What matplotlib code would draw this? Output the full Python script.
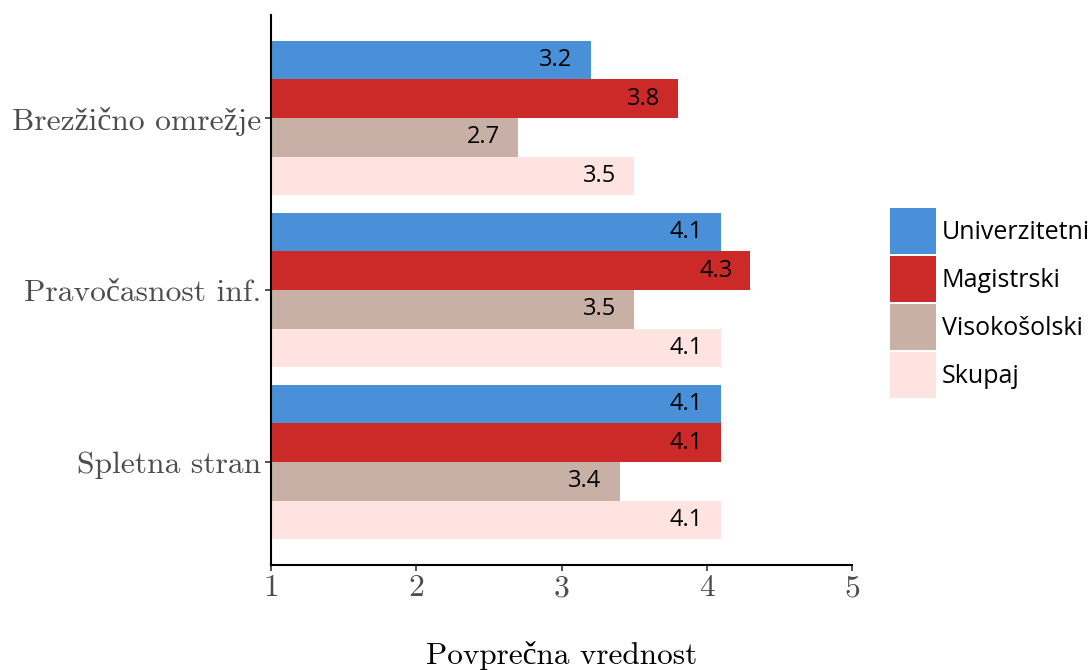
import matplotlib.pyplot as plt
import numpy as np

categories = ["Spletna stran", "Pravočasnost inf.", "Brezžično omrežje"]
series = ["Univerzitetni", "Magistrski", "Visokošolski", "Skupaj"]
univerzitetni = [4.1, 4.1, 3.2]
magistrski = [4.1, 4.3, 3.8]
visokosolski = [3.4, 3.5, 2.7]
skupaj = [4.1, 4.1, 3.5]
colors = ["#4a90d9", "#cc2929", "#c8b0a6", "#ffe3e0"]

serif = ["cmr10", "Liberation Serif"]
plt.rcParams["axes.formatter.use_mathtext"] = True

fig = plt.figure(figsize=(10.91, 6.70), dpi=100)
ax = fig.add_axes([0.2484, 0.1567, 0.5326, 0.8209])

y = np.arange(len(categories))
h = 0.225
values = [univerzitetni, magistrski, visokosolski, skupaj]
for i, (vals, name, c) in enumerate(zip(values, series, colors)):
    pos = y + (1.5 - i) * h
    ax.barh(pos, np.array(vals) - 1, h, left=1, color=c, label=name)
    for yy, v in zip(pos, vals):
        ax.annotate(f"{v:.1f}", (v, yy), xytext=(-13, 0), textcoords="offset points",
                    ha="right", va="center", fontsize=17, family="Open Sans", color="black")

ax.set_xlim(1, 5)
ax.set_ylim(-0.6, 2.6)
ax.set_xticks([1, 2, 3, 4, 5])
ax.set_xticklabels(["1", "2", "3", "4", "5"], family=serif, fontsize=22.7, color="#4d4d4d")
ax.set_yticks(y)
ax.set_yticklabels(categories, family=serif, fontsize=22.7, color="#4d4d4d")
ax.set_xlabel("Povprečna vrednost", family=serif, fontsize=22.5, labelpad=28)

for s in ["top", "right"]:
    ax.spines[s].set_visible(False)
for s in ["left", "bottom"]:
    ax.spines[s].set_linewidth(1.5)
ax.tick_params(length=4, width=1.2, color="#333333", pad=3)

ax.legend(loc="upper left", bbox_to_anchor=(890 / 1091, 1 - 208 / 670),
          bbox_transform=fig.transFigure, frameon=False, borderpad=0,
          borderaxespad=0, handlelength=1.84, handleheight=2.46,
          labelspacing=0.08, handletextpad=0.24,
          prop={"family": "Open Sans", "size": 18})

fig.savefig("out.png", dpi=100)
